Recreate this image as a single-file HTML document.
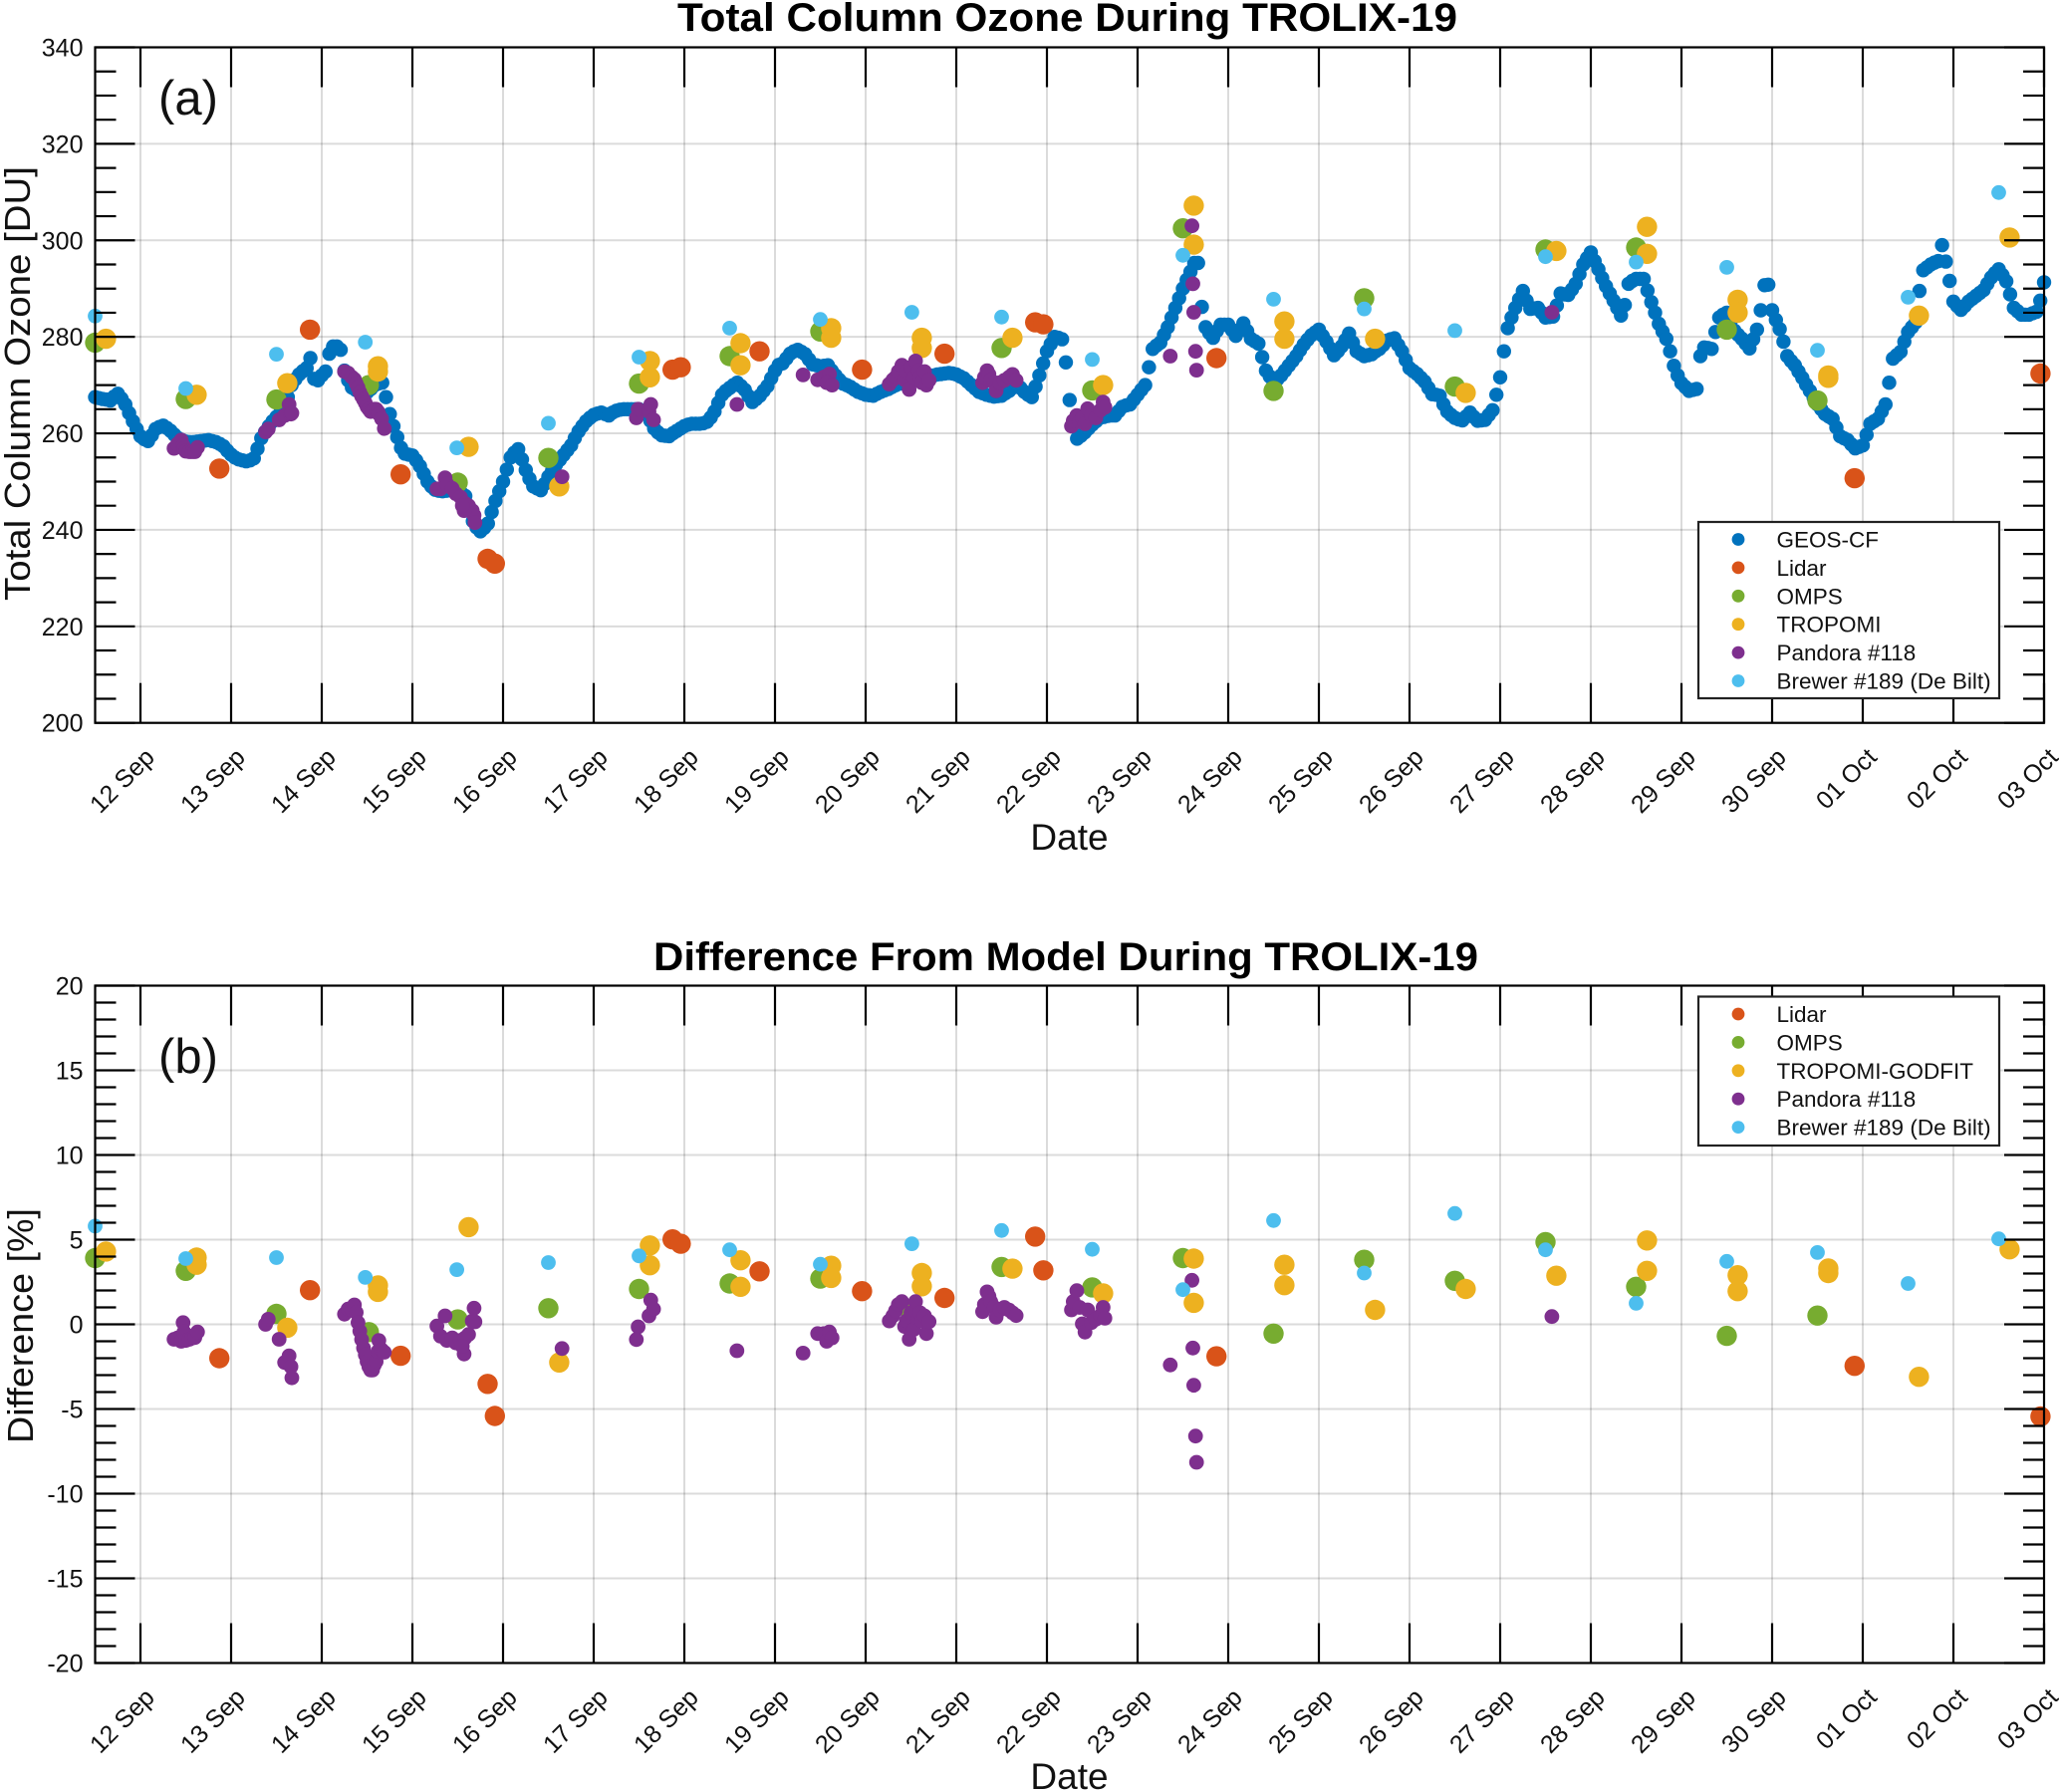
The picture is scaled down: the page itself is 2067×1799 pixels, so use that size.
<!DOCTYPE html>
<html>
<head>
<meta charset="utf-8">
<title>Total Column Ozone During TROLIX-19</title>
<style>
html,body{margin:0;padding:0;background:#fff;}
svg{display:block;font-family:"Liberation Sans",Arial,sans-serif;}
</style>
</head>
<body>
<svg id="figure" xmlns="http://www.w3.org/2000/svg" width="2067" height="1799" viewBox="0 0 2067 1799"></svg>
<script>
// All days are offsets from 12 Sep (0 = 12 Sep 00:00).
const dateLabels=["12 Sep","13 Sep","14 Sep","15 Sep","16 Sep","17 Sep","18 Sep","19 Sep","20 Sep","21 Sep","22 Sep","23 Sep","24 Sep","25 Sep","26 Sep","27 Sep","28 Sep","29 Sep","30 Sep","01 Oct","02 Oct","03 Oct"];
const yTicksA=[200,220,240,260,280,300,320,340];
const yTicksB=[-20,-15,-10,-5,0,5,10,15,20];

// GEOS-CF hourly from day -0.5; one row per 24 samples
const geosDU=[
267.5,267.3,267.1,267,266.8,267.6,268.2,267.2,266,264.2,262.5,260.9,259.4,258.8,258.4,259.6,260.9,261.3,261.6,261.1,260.5,259.7,259,258.6,
258.3,258.2,258.2,258.3,258.4,258.5,258.6,258.4,258.2,257.8,257.3,256.4,255.6,255,254.6,254.4,254.2,254.4,254.8,256.8,259,260.3,261.5,262.5,
263.4,264.2,265,267.5,270,271.2,272.2,272.9,273.5,275.6,271.3,271,272,272.8,276.5,278,278,277.3,273,271,269.5,269,268.5,268.5,
268.5,269.2,270,270.3,270.5,267.5,264,261.5,259.2,257,255.8,255.6,255.4,254.4,253.2,251.6,250,249,248.3,248.1,248,248.1,248.2,248.1,
248,247.6,247,244.5,241.8,240.5,239.7,240.4,241.3,243.7,246,248,250,252.5,255,256,256.7,254.6,252.4,250.6,249,248.6,248.2,249.5,
251,252.3,253.5,254.5,255.5,256.5,257.5,259,260.4,261.5,262.5,263.2,263.8,264.1,264.3,264,263.7,264.3,264.7,264.9,265,265,265,265,
265,264.6,264,262.6,261,260.2,259.6,259.5,259.4,260,260.5,261,261.5,261.8,262,262,262,262.1,262.4,263.3,264.5,266.3,268,268.8,
269.4,270,270.5,269.8,269,267.7,266.5,267.1,267.8,268.8,269.8,271.4,273,274.2,274.5,275.5,276.5,277,277.3,276.9,276.4,275.3,274.3,274.1,
273.9,274,274.1,273,272,271.1,270.3,270,269.6,269.1,268.6,268.3,268,267.9,267.8,268.2,268.6,268.9,269.2,269.6,270,270.3,270.5,270.8,
271,271.2,271.3,271.5,271.6,271.8,272,272.2,272.3,272.4,272.5,272.4,272.2,271.8,271.4,270.7,270,269.3,268.6,268.3,268,267.8,267.6,267.7,
267.8,268.3,268.8,269.5,270.2,269.4,268.6,268,267.5,269.7,272,274.5,277,278.5,280,279.8,279.5,274.7,266.9,262,258.9,259.5,260.2,261,
261.8,262.5,263.2,263.4,263.6,263.7,263.7,264.6,265.5,265.8,266,267,268,269,270,273.7,277.5,278.2,278.8,280.4,282,284,286,288,
290,291.8,293.5,295.3,295.3,286.2,282,280.8,279.8,281.2,282.5,282.5,282.5,281.4,280.2,281.5,282.8,281.2,279.6,279.1,278.6,275.8,273,271.8,
270.5,271.2,272,273,274,275,276,277.2,278.4,279.4,280.3,280.9,281.5,280.2,279,277.6,276.2,277,278,279.3,280.7,278.8,277,276.5,
276,276.2,276.4,277,277.5,278.3,279.2,279.5,279.7,278.3,277,275.2,273.5,272.9,272.3,271.5,270.7,269.4,268.1,268,267.8,266,264.5,263.8,
263.2,262.9,262.7,263.5,264.3,263.4,262.6,262.7,262.8,263.8,264.8,268,271.6,277,281.8,284,286,287.8,289.5,287.5,285.8,285.9,286,285,
284,284.1,284.2,286.5,289,288.8,288.7,289.8,291,293,295,296.3,297.5,295.7,294,292.2,290.5,289,287.5,286,284.4,286.6,291,291.6,
292,292,292,289.6,287.2,285,282.7,281.1,279.6,277,274,272,270.4,269.6,268.8,269,269.2,276,277.8,277.7,277.5,281,284,284.6,
285,283.2,281.3,280.4,279.6,278.6,277.6,279.5,281.5,285.5,290.7,290.8,285.5,283.5,281.6,279,276,275,274.1,272.8,271.5,270.1,268.8,267.4,
266,265,264,263.5,263,261.2,259.4,259,258.6,257.7,256.9,257.2,257.5,259.7,262,262.5,263,264.5,266,270.5,275.5,276.2,276.9,279,
281,282,283,289.5,293.8,294.4,295,295.4,295.7,299,295.6,291.6,287.3,286.4,285.6,286.4,287.3,287.9,288.5,289.1,289.7,291,292.3,293.2,
294,292.8,291.5,288.8,286,285.3,284.6,284.6,284.6,284.9,285.2,287.5,291.3];
const geosStartDay=-0.5;
const geosStepDays=1/24;

const lidarDays=[0.87,1.87,2.87,3.83,3.91,5.87,5.96,6.83,7.96,8.87,9.87,9.96,11.87,18.91,20.96];
const lidarDU=[252.7,281.5,251.5,234,233,273.2,273.7,277,273.2,276.5,283,282.6,275.6,250.7,272.4];
const lidarDiff=[-2,2.02,-1.86,-3.52,-5.41,5.02,4.76,3.13,1.96,1.56,5.18,3.19,-1.89,-2.45,-5.44];

const ompsDays=[-0.5,0.5,1.5,2.52,3.5,4.5,5.5,6.5,7.5,8.5,9.5,10.5,11.5,12.5,13.5,14.5,15.5,16.5,17.5,18.5];
const ompsDU=[278.8,267.1,267,270,249.8,254.9,270.3,276,281.1,273,277.7,268.9,302.5,268.8,288,269.7,298.1,298.5,281.5,266.8];
const ompsDiff=[3.91,3.16,0.62,-0.46,0.29,0.95,2.09,2.41,2.7,0.7,3.39,2.18,3.91,-0.55,3.81,2.57,4.86,2.22,-0.68,0.52];

const tropomiDays=[-0.38,0.62,1.62,2.62,2.62,3.62,4.62,5.62,5.62,6.62,6.62,7.62,7.62,8.62,8.62,9.62,10.62,11.62,11.62,12.62,12.62,13.62,14.62,15.62,16.62,16.62,17.62,17.62,18.62,18.62,19.62,20.62];
const tropomiDU=[279.6,268,270.4,273.9,272.8,257.2,249,275,271.6,278.7,274.1,281.8,279.8,279.8,277.7,279.8,270,307.2,299.1,283.2,279.6,279.6,268.4,297.8,302.8,297.2,287.7,285,272,271.5,284.4,300.6];
const godfitDays=[-0.38,0.62,0.62,1.62,2.62,2.62,3.62,4.62,5.62,5.62,6.62,6.62,7.62,7.62,8.62,8.62,9.62,10.62,11.62,11.62,12.62,12.62,13.62,14.62,15.62,16.62,16.62,17.62,17.62,18.62,18.62,19.62,20.62];
const godfitDiff=[4.3,3.94,3.52,-0.2,2.3,1.92,5.74,-2.25,4.66,3.49,3.78,2.22,3.46,2.74,3.03,2.25,3.29,1.83,3.88,1.27,3.52,2.31,0.85,2.09,2.87,4.95,3.16,2.9,1.96,3.3,3.03,-3.1,4.43];

const pandoraDays=[0.37,0.41,0.45,0.47,0.48,0.50,0.54,0.57,0.60,0.63,
1.38,1.41,1.53,1.59,1.64,1.66,1.67,
2.25,2.29,2.33,2.36,2.38,2.40,2.42,2.44,2.46,2.48,2.50,2.52,2.54,2.56,2.58,2.60,2.62,2.63,2.66,2.69,
3.27,3.36,3.31,3.38,3.44,3.48,3.53,3.58,3.62,3.66,3.68,3.57,3.55,3.69,
4.65,5.47,5.49,5.61,5.63,5.66,6.58,
7.31,7.47,7.54,7.60,7.57,7.63,
8.26,8.30,8.33,8.36,8.40,8.43,8.45,8.48,8.50,8.53,8.55,8.58,8.60,8.62,8.65,8.67,8.70,
9.29,9.31,9.34,9.36,9.38,9.42,9.44,9.48,9.53,9.58,9.62,9.66,
10.27,10.29,10.33,10.36,10.39,10.42,10.45,10.49,10.54,10.59,10.62,10.64,
11.36,11.60,11.61,11.62,11.64,11.65,15.57];
const pandoraDU=[256.9,257.8,258.6,257.5,256.8,256.3,256.2,256.2,256.2,257.1,
260.3,260.9,262.8,263.7,266,264,264.2,
272.8,272.5,271.7,271.2,270.3,269.5,268.5,267.7,267,266.3,265.5,265,264.5,264.7,265,265,264.5,264,263,261,
248.5,250.8,248.5,249.5,248.6,247.5,246.8,245.5,245,244,243,244,245,241.5,
251,263.2,265,264.5,266,262.8,266,
272.1,271.1,271.7,272.3,270.5,270,
270.2,271.1,271.6,272.8,274.1,271.1,272.8,269.1,273.7,271.6,275,273,271.6,270.5,272.8,270,271,
270.5,271.6,273,272.2,271,270.5,268.8,270.5,271,271.6,272.2,271,
261.5,262.6,263.7,262.4,263.2,262,265.1,263.7,263.2,264.8,266.5,265.4,
276,303,291,285.1,277,273.1,285.1];
const pandoraDiff=[-0.88,-0.8,-1,0.1,-0.45,-0.95,-0.88,-0.8,-0.78,-0.45,
0,0.3,-0.88,-2.25,-1.86,-2.5,-3.16,
0.6,0.9,0.85,1.15,0.7,0.1,-0.4,-0.9,-1.4,-1.8,-2.2,-2.5,-2.7,-2.7,-2.4,-2.2,-1.6,-0.95,-1.5,-1.65,
-0.1,0.5,-0.7,-0.95,-0.8,-1.1,-0.95,-0.8,-0.6,0.2,0.95,-1.75,-1.3,0.15,
-1.43,-0.9,-0.15,0.5,1.43,0.9,-1.56,
-1.7,-0.55,-0.55,-0.45,-1,-0.8,
0.2,0.5,0.8,1.17,1.34,-0.13,0.2,-0.88,0.68,-0.3,1.34,0.36,0.68,0.2,0.5,-0.55,0.16,
0.75,1.17,1.92,1.66,1.34,1,0.42,0.85,1,0.85,0.68,0.52,
0.85,1.34,1.99,1,0.03,-0.46,0.85,0.1,0.3,0.52,1,0.36,
-2.4,2.6,-1.4,-3.6,-6.6,-8.15,0.46];

const brewerDays=[-0.5,0.5,1.5,2.48,3.49,4.5,5.5,6.5,7.5,8.51,9.5,10.5,11.5,12.5,13.5,14.5,15.5,16.5,17.5,18.5,19.5,20.5];
const brewerDU=[284.3,269.3,276.4,278.9,257,262.1,275.8,281.8,283.6,285.1,284.1,275.3,296.9,287.8,285.8,281.3,296.6,295.5,294.4,277.2,288.2,309.9];
const brewerDiff=[5.8,3.88,3.94,2.77,3.23,3.65,4.04,4.4,3.55,4.76,5.54,4.43,2.05,6.13,3.03,6.55,4.4,1.24,3.72,4.24,2.41,5.05];

const legendLabelsA=["GEOS-CF","Lidar","OMPS","TROPOMI","Pandora #118","Brewer #189 (De Bilt)"];
const legendLabelsB=["Lidar","OMPS","TROPOMI-GODFIT","Pandora #118","Brewer #189 (De Bilt)"];

const COLORS={geos:"#0072BD",lidar:"#D95319",omps:"#77AC30",tropomi:"#EDB120",pandora:"#7E2F8E",brewer:"#4DBEEE"};
const LEG_COLORS_A=[COLORS.geos,COLORS.lidar,COLORS.omps,COLORS.tropomi,COLORS.pandora,COLORS.brewer];
const LEG_COLORS_B=[COLORS.lidar,COLORS.omps,COLORS.tropomi,COLORS.pandora,COLORS.brewer];

const svg=document.getElementById('figure');
const NS='http://www.w3.org/2000/svg';
const LEFT=95.5,RIGHT=2052,X0=141,DAYW=91;
function xScale(d){return X0+DAYW*d;}

function mk(parent,tag,attrs,text){
  const el=document.createElementNS(NS,tag);
  for(const k in attrs){el.setAttribute(k,attrs[k]);}
  if(text!==undefined){el.textContent=text;}
  parent.appendChild(el);
  return el;
}

function drawPoints(g,days,vals,yFn,r,color,name){
  for(let i=0;i<vals.length;i++){
    const c=mk(g,'circle',{cx:xScale(days[i]).toFixed(1),cy:yFn(vals[i]).toFixed(1),r:r,fill:color});
    
    
  }
}

function drawAxes(cfg){
  const yFn=cfg.yFn,top=cfg.top,bottom=cfg.bottom;
  const root=mk(svg,'g',{});
  
  

  const grid=mk(root,'g',{stroke:'#000','stroke-opacity':'0.14','stroke-width':'2'});
  
  
  dateLabels.forEach(function(lbl,i){
    const gl=mk(grid,'line',{x1:xScale(i),x2:xScale(i),y1:top,y2:bottom});
    
    
  });
  cfg.ticks.forEach(function(t){
    const gl=mk(grid,'line',{x1:LEFT,x2:RIGHT,y1:yFn(t),y2:yFn(t)});
    
    
  });

  const marks=mk(root,'g',{});
  
  
  cfg.draw(marks,yFn);

  const ax=mk(root,'g',{stroke:'#000','stroke-width':'2.2',fill:'none'});
  
  
  const box=mk(ax,'rect',{x:LEFT,y:top,width:RIGHT-LEFT,height:bottom-top});
  
  
  dateLabels.forEach(function(lbl,i){
    const x=xScale(i);
    const t1=mk(ax,'line',{x1:x,x2:x,y1:bottom,y2:bottom-40});
    
    
    const t2=mk(ax,'line',{x1:x,x2:x,y1:top,y2:top+40});
    
    
    const tx=mk(root,'text',{x:x+15.5,y:bottom+36,'font-size':'25','text-anchor':'end',fill:'#111',transform:'rotate(-45 '+(x+15.5)+' '+(bottom+36)+')'},lbl);
    
    
  });
  const lo=cfg.ticks[0],hi=cfg.ticks[cfg.ticks.length-1];
  for(let v=lo;v<=hi+1e-6;v+=cfg.minor){
    const y=yFn(v);
    const isMajor=cfg.ticks.indexOf(Math.round(v))>=0;
    const len=isMajor?40:21;
    const a=mk(ax,'line',{x1:LEFT,x2:LEFT+len,y1:y,y2:y});
    
    
    const b=mk(ax,'line',{x1:RIGHT,x2:RIGHT-len,y1:y,y2:y});
    
    
  }
  cfg.ticks.forEach(function(t){
    const tx=mk(root,'text',{x:83.5,y:yFn(t)+9,'font-size':'25','text-anchor':'end',fill:'#111'},String(t));
    
    
  });

  const title=mk(root,'text',{x:cfg.titleX,y:cfg.titleY,'font-size':'40','font-weight':'bold',textLength:cfg.titleW,lengthAdjust:'spacingAndGlyphs',fill:'#000'},cfg.title);
  
  

  const yl=mk(root,'text',{x:0,y:0,'font-size':'36','text-anchor':'middle',textLength:cfg.yLabelLen,lengthAdjust:'spacingAndGlyphs',fill:'#111',transform:'translate('+cfg.yLabelX+' '+cfg.yLabelY+') rotate(-90)'},cfg.yLabel);
  
  

  const xl=mk(root,'text',{x:1073.5,y:cfg.dateY,'font-size':'37','text-anchor':'middle',fill:'#111'},'Date');
  
  

  const pl=mk(root,'text',{x:159,y:cfg.tagY,'font-size':'49',fill:'#111'},cfg.tag);
  
  

  const leg=mk(root,'g',{});
  
  
  const lb=mk(leg,'rect',{x:1705,y:cfg.legTop,width:302,height:cfg.legH,fill:'#fff',stroke:'#222','stroke-width':'2.2'});
  
  
  cfg.legLabels.forEach(function(lbl,i){
    const y=cfg.legY0+i*28.4;
    const c=mk(leg,'circle',{cx:1745,cy:y,r:6.4,fill:cfg.legColors[i]});
    
    
    const t=mk(leg,'text',{x:1783.5,y:y+8,'font-size':'22.5',fill:'#111'},lbl);
    
    
  });
}

const TOP_A=47.5,BOT_A=725.7;
function yA(v){return BOT_A-(v-200)*(BOT_A-TOP_A)/140;}
const TOP_B=989.5,BOT_B=1669.5;
function yB(v){return BOT_B-(v+20)*(BOT_B-TOP_B)/40;}

drawAxes({
  id:'panel-a',yFn:yA,top:TOP_A,bottom:BOT_A,ticks:yTicksA,minor:5,
  title:'Total Column Ozone During TROLIX-19',titleX:680,titleY:31,titleW:783,
  yLabel:'Total Column Ozone [DU]',yLabelX:30,yLabelY:385,yLabelLen:436,
  dateY:853,tag:'(a)',tagY:115,legTop:524,legH:177,legY0:541.5,
  legLabels:legendLabelsA,legColors:LEG_COLORS_A,
  draw:function(g,y){
    const geosDays=geosDU.map(function(_,i){return geosStartDay+i*geosStepDays;});
    drawPoints(g,geosDays,geosDU,y,7.2,COLORS.geos,'geos-cf');
    drawPoints(g,lidarDays,lidarDU,y,10.2,COLORS.lidar,'lidar');
    drawPoints(g,ompsDays,ompsDU,y,10.2,COLORS.omps,'omps');
    drawPoints(g,tropomiDays,tropomiDU,y,10.2,COLORS.tropomi,'tropomi');
    drawPoints(g,pandoraDays,pandoraDU,y,7.4,COLORS.pandora,'pandora-118');
    drawPoints(g,brewerDays,brewerDU,y,7.4,COLORS.brewer,'brewer-189');
  }
});

drawAxes({
  id:'panel-b',yFn:yB,top:TOP_B,bottom:BOT_B,ticks:yTicksB,minor:1,
  title:'Difference From Model During TROLIX-19',titleX:656,titleY:974,titleW:828,
  yLabel:'Difference [%]',yLabelX:33,yLabelY:1331,yLabelLen:236,
  dateY:1796,tag:'(b)',tagY:1077,legTop:1000.5,legH:149.5,legY0:1018,
  legLabels:legendLabelsB,legColors:LEG_COLORS_B,
  draw:function(g,y){
    drawPoints(g,lidarDays,lidarDiff,y,10.2,COLORS.lidar,'lidar');
    drawPoints(g,ompsDays,ompsDiff,y,10.2,COLORS.omps,'omps');
    drawPoints(g,godfitDays,godfitDiff,y,10.2,COLORS.tropomi,'tropomi-godfit');
    drawPoints(g,pandoraDays,pandoraDiff,y,7.4,COLORS.pandora,'pandora-118');
    drawPoints(g,brewerDays,brewerDiff,y,7.4,COLORS.brewer,'brewer-189');
  }
});
</script>
</body>
</html>
